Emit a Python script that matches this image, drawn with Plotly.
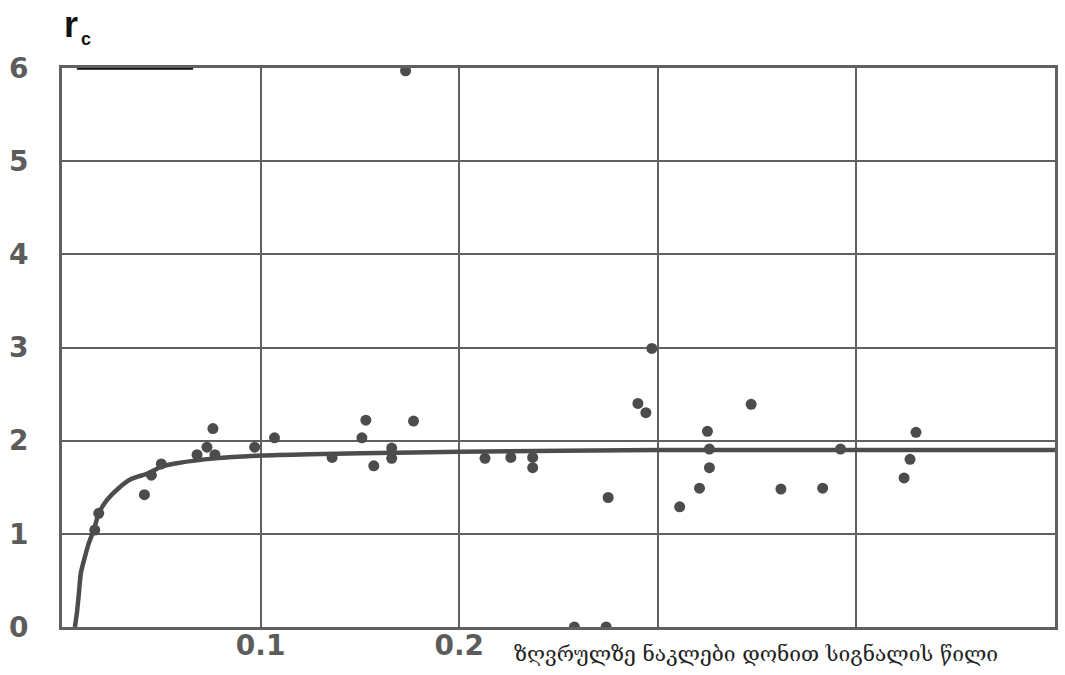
import plotly.graph_objects as go

# Fitted saturation curve r_c versus the fraction of sub-threshold signal
curve_x = [0.0065, 0.0075, 0.0085, 0.0095, 0.0115, 0.0135, 0.016, 0.0185, 0.0225,
           0.0285, 0.035, 0.0435, 0.05, 0.0585, 0.077, 0.1, 0.125, 0.15, 0.2,
           0.3, 0.4, 0.5]
curve_y = [0.0, 0.15, 0.36, 0.58, 0.75, 0.90, 1.04, 1.22, 1.36,
           1.49, 1.59, 1.65, 1.72, 1.76, 1.81, 1.84, 1.855, 1.865, 1.88,
           1.90, 1.90, 1.90]

# Measured points
pts_x = [0.0165, 0.0185, 0.045, 0.05, 0.0415, 0.068, 0.073, 0.076, 0.077, 0.097,
         0.107, 0.136, 0.151, 0.153, 0.157, 0.166, 0.166, 0.173, 0.177, 0.213,
         0.226, 0.237, 0.237, 0.258, 0.274, 0.275, 0.290, 0.294, 0.297, 0.311,
         0.321, 0.326, 0.326, 0.325, 0.347, 0.362, 0.383, 0.392, 0.424, 0.427,
         0.430]
pts_y = [1.04, 1.22, 1.63, 1.75, 1.42, 1.85, 1.93, 2.13, 1.85, 1.93,
         2.03, 1.82, 2.03, 2.22, 1.73, 1.92, 1.81, 5.97, 2.21, 1.81,
         1.82, 1.82, 1.71, 0.0, 0.0, 1.39, 2.40, 2.30, 2.99, 1.29,
         1.49, 1.71, 1.91, 2.10, 2.39, 1.48, 1.49, 1.91, 1.60, 1.80,
         2.09]

x_grid = [0.1, 0.2, 0.3, 0.4]
x_labels = ["0.1", "0.2", "", ""]
y_grid = [0, 1, 2, 3, 4, 5, 6]
y_labels = ["0", "1", "2", "3", "4", "5", "6"]

# Heavy stroke along the top edge near the origin
top_mark_x = [0.0075, 0.066]

x_title = "ზღვრულზე ნაკლები დონით სიგნალის წილი"

ink = "#4c4c4c"
grid = "#606060"

fig = go.Figure()
fig.add_trace(go.Scatter(x=curve_x, y=curve_y, mode="lines",
                         line=dict(color=ink, width=4.5, shape="spline", smoothing=0.6),
                         showlegend=False, hoverinfo="skip"))
fig.add_trace(go.Scatter(x=pts_x, y=pts_y, mode="markers",
                         marker=dict(color=ink, size=11, symbol="circle"),
                         showlegend=False))

tick_font = dict(family="DejaVu Sans", size=28, color="#5c5c5c", weight="bold")

fig.update_xaxes(range=[0, 0.5], tickvals=x_grid, ticktext=x_labels,
                 showgrid=True, gridcolor=grid, gridwidth=2,
                 showline=True, linecolor=grid, linewidth=3, mirror=True,
                 zeroline=False, ticks="", tickfont=tick_font, ticklabelstandoff=-9)
fig.update_yaxes(range=[0, 6], tickvals=y_grid, ticktext=y_labels,
                 showgrid=True, gridcolor=grid, gridwidth=2,
                 showline=True, linecolor=grid, linewidth=3, mirror=True,
                 zeroline=False, ticks="", tickfont=tick_font, ticklabelstandoff=25)

fig.add_shape(type="line", xref="x", yref="y",
              x0=top_mark_x[0], x1=top_mark_x[1], y0=6, y1=6,
              line=dict(color="#111111", width=3.5))

# Axis titles
fig.add_annotation(text="<b>r</b>", xref="paper", yref="paper", x=0.0, y=1.0,
                   xshift=0, yshift=44, showarrow=False, xanchor="left", yanchor="middle",
                   font=dict(family="Liberation Sans", size=36, color="#111111"))
fig.add_annotation(text="<b>c</b>", xref="paper", yref="paper", x=0.0, y=1.0,
                   xshift=17, yshift=29, showarrow=False, xanchor="left", yanchor="middle",
                   font=dict(family="Liberation Sans", size=18, color="#111111"))
fig.add_annotation(text=x_title, xref="paper", yref="paper", x=0.699, y=0.0,
                   yshift=-27, showarrow=False, xanchor="center", yanchor="middle",
                   font=dict(family="DejaVu Serif", size=21, color="#222222"))

fig.update_layout(width=1065, height=675,
                  margin=dict(l=62, r=7, t=68, b=48),
                  paper_bgcolor="white", plot_bgcolor="white")

fig.write_html("out.html")
